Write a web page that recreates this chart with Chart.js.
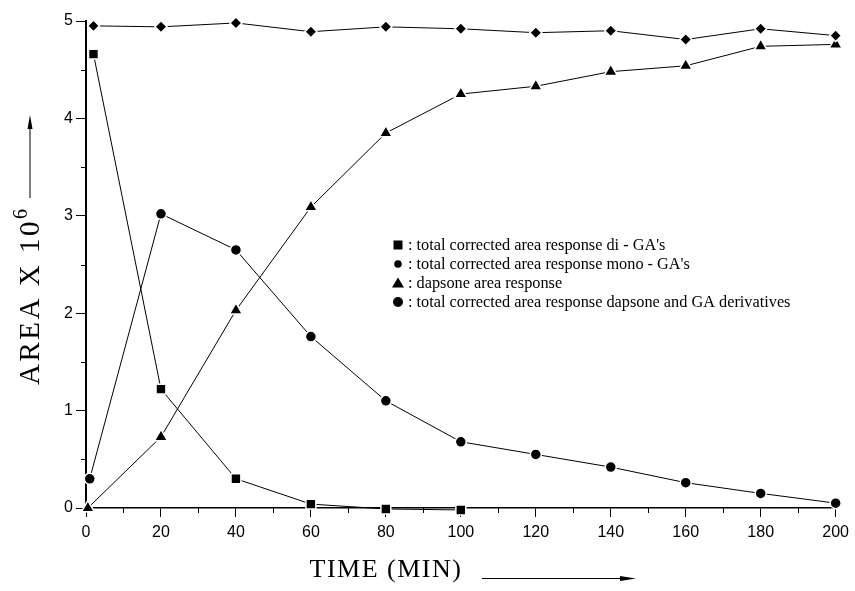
<!DOCTYPE html>
<html>
<head>
<meta charset="utf-8">
<script src="https://cdn.jsdelivr.net/npm/chart.js"></script>
<style>
  body { margin: 0; background: #fff; }
  canvas { display: block; }
</style>
</head>
<body>
<canvas id="chart" width="855" height="591"></canvas>
<script>
// data (area x 10^6 against time in minutes)
const xTicks = [0, 20, 40, 60, 80, 100, 120, 140, 160, 180, 200];
const yTicks = [0, 1, 2, 3, 4, 5];

const totalTimes = [2, 20, 40, 60, 80, 100, 120, 140, 160, 180, 200];
const totalArea = [4.95, 4.94, 4.98, 4.89, 4.94, 4.92, 4.88, 4.90, 4.81, 4.92, 4.85];

const diTimes = [2, 20, 40, 60, 80, 100];
const diArea = [4.66, 1.22, 0.30, 0.04, -0.01, -0.02];

const monoTimes = [1, 20, 40, 60, 80, 100, 120, 140, 160, 180, 200];
const monoArea = [0.30, 3.02, 2.65, 1.76, 1.10, 0.68, 0.55, 0.42, 0.26, 0.15, 0.05];

const dapsoneTimes = [0.5, 20, 40, 60, 80, 100, 120, 140, 160, 180, 200];
const dapsoneArea = [0, 0.73, 2.03, 3.09, 3.85, 4.25, 4.33, 4.48, 4.54, 4.74, 4.76];

const legendLabels = [
  ": total corrected area response di - GA's",
  ": total corrected area response mono - GA's",
  ': dapsone area response',
  ': total corrected area response dapsone and GA derivatives'
];

const toPoints = (xs, ys) => xs.map((x, i) => ({ x: x, y: ys[i] }));

const series = (pts, style, radius) => ({
  data: pts,
  showLine: true,
  borderColor: '#000',
  borderWidth: 1,
  pointStyle: style,
  pointRadius: radius,
  pointHoverRadius: radius,
  pointBackgroundColor: '#000',
  pointBorderColor: '#fff',
  pointBorderWidth: 1.5,
  clip: false
});

// titles, hand drawn legend and minor ticks
const extras = {
  id: 'extras',
  afterDraw(chart) {
    const ctx = chart.ctx;
    const xs = chart.scales.x, ys = chart.scales.y;
    const area = chart.chartArea;
    ctx.save();
    ctx.strokeStyle = '#000';
    ctx.fillStyle = '#000';
    ctx.lineWidth = 1;

    // minor ticks
    for (let v = 10; v < 200; v += 20) {
      const px = Math.round(xs.getPixelForValue(v)) + 0.5;
      ctx.beginPath(); ctx.moveTo(px, area.bottom); ctx.lineTo(px, area.bottom + 5); ctx.stroke();
    }
    for (let v = 0.5; v < 5; v += 1) {
      const py = Math.round(ys.getPixelForValue(v)) + 0.5;
      ctx.beginPath(); ctx.moveTo(area.left - 5, py); ctx.lineTo(area.left, py); ctx.stroke();
    }

    // y title, rotated
    ctx.save();
    ctx.translate(39, 297);
    ctx.rotate(-Math.PI / 2);
    ctx.textBaseline = 'alphabetic';
    ctx.textAlign = 'left';
    ctx.letterSpacing = '2.5px';
    ctx.font = '29px "Liberation Serif"';
    const main = 'AREA X 10';
    const w1 = ctx.measureText(main).width;
    ctx.letterSpacing = '0px';
    ctx.font = '20px "Liberation Serif"';
    const w2 = ctx.measureText('6').width;
    const start = -(w1 + w2) / 2;
    ctx.fillText('6', start + w1, -12);
    ctx.letterSpacing = '2.5px';
    ctx.font = '29px "Liberation Serif"';
    ctx.fillText(main, start, 0);
    ctx.restore();

    // y arrow
    ctx.beginPath(); ctx.moveTo(30, 198); ctx.lineTo(30, 120); ctx.stroke();
    ctx.beginPath(); ctx.moveTo(30, 115); ctx.lineTo(27.5, 129); ctx.lineTo(32.5, 129); ctx.closePath(); ctx.fill();

    // x title
    ctx.letterSpacing = '1.5px';
    ctx.font = '26px "Liberation Serif"';
    ctx.textAlign = 'center';
    ctx.textBaseline = 'alphabetic';
    ctx.fillText('TIME (MIN)', 386, 577);
    ctx.letterSpacing = '0px';
    ctx.beginPath(); ctx.moveTo(482, 578.5); ctx.lineTo(625, 578.5); ctx.stroke();
    ctx.beginPath(); ctx.moveTo(636, 578.5); ctx.lineTo(620, 576); ctx.lineTo(620, 581); ctx.closePath(); ctx.fill();

    // legend, sized so the longest row spans the same width as in the figure
    ctx.textAlign = 'left';
    ctx.textBaseline = 'middle';
    ctx.font = '15px "Liberation Serif"';
    const longW = ctx.measureText(legendLabels[3]).width;
    const fs = Math.min(17, 15 * 383 / longW);
    ctx.font = fs.toFixed(2) + 'px "Liberation Serif"';
    const lx = 398, tx = 408;
    const rows = [245, 264, 283, 302];
    rows.forEach((ry, i) => {
      ctx.beginPath();
      if (i === 0) ctx.rect(lx - 4.5, ry - 4.5, 9, 9);
      else if (i === 1) ctx.arc(lx, ry, 3.8, 0, Math.PI * 2);
      else if (i === 2) { ctx.moveTo(lx, ry - 5.5); ctx.lineTo(lx + 6, ry + 4.5); ctx.lineTo(lx - 6, ry + 4.5); ctx.closePath(); }
      else ctx.arc(lx, ry, 5, 0, Math.PI * 2);
      ctx.fill();
      ctx.fillText(legendLabels[i], tx, ry + 1);
    });
    ctx.restore();
  }
};

new Chart(document.getElementById('chart'), {
  type: 'scatter',
  data: {
    datasets: [
      series(toPoints(totalTimes, totalArea), 'rectRot', 6),
      series(toPoints(diTimes, diArea), 'rect', 7),
      series(toPoints(monoTimes, monoArea), 'circle', 5.5),
      series(toPoints(dapsoneTimes, dapsoneArea), 'triangle', 7.5)
    ]
  },
  options: {
    responsive: false,
    animation: false,
    layout: { padding: { top: 21, right: 17, left: 0, bottom: 0 } },
    plugins: { legend: { display: false }, tooltip: { enabled: false } },
    scales: {
      x: {
        type: 'linear',
        min: xTicks[0],
        max: xTicks[xTicks.length - 1],
        afterBuildTicks: s => { s.ticks = xTicks.map(v => ({ value: v })); },
        afterFit: s => { s.height = 83; },
        ticks: { color: '#000', font: { family: '"Liberation Sans"', size: 16 }, padding: 6, maxRotation: 0 },
        grid: { drawOnChartArea: false, drawTicks: true, tickLength: 9, color: '#000', tickWidth: 1 },
        border: { color: '#000', width: 1.5 }
      },
      y: {
        type: 'linear',
        min: yTicks[0],
        max: yTicks[yTicks.length - 1],
        afterBuildTicks: s => { s.ticks = yTicks.map(v => ({ value: v })); },
        afterFit: s => { s.width = 86; },
        ticks: { color: '#000', font: { family: '"Liberation Sans"', size: 16 }, padding: 3 },
        grid: { drawOnChartArea: false, drawTicks: true, tickLength: 10, color: '#000', tickWidth: 1 },
        border: { color: '#000', width: 2 }
      }
    }
  },
  plugins: [extras]
});
</script>
</body>
</html>
